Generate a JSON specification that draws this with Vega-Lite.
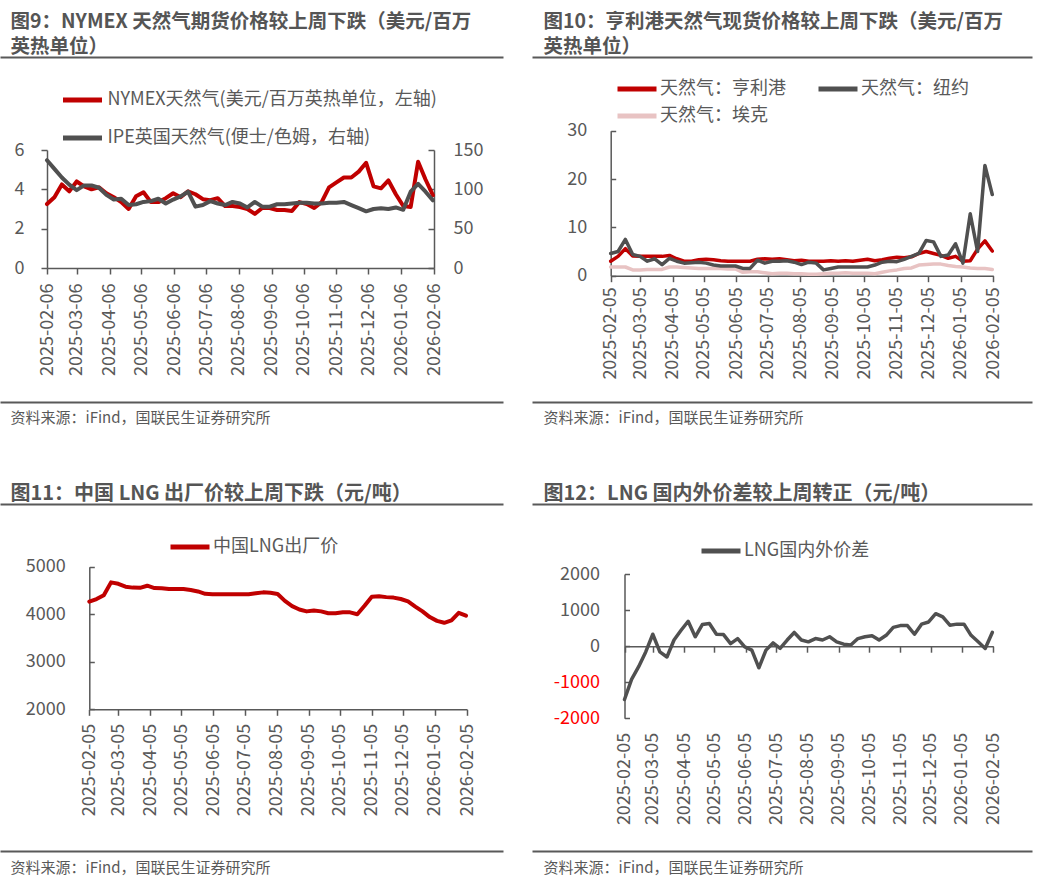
{
"$schema":"https://vega.github.io/schema/vega-lite/v6.json",
"width":1047,"height":887,"autosize":{"type":"none"},"padding":0,"background":"white",
"config":{"view":{"stroke":null},"font":"Noto Sans CJK SC",
"axis":{"grid":false,"domainColor":"#595959","domainWidth":1.5,"tickColor":"#595959","tickWidth":1.5,"labelColor":"#595959","labelFont":"Noto Sans CJK SC","labelFontSize":18,"titleFont":"Noto Sans CJK SC","titleColor":"#595959","labelFlush":false,"labelOverlap":false,"labelBound":false},
"legend":{"orient":"none","padding":0,"labelFont":"Noto Sans CJK SC","labelFontSize":18,"labelColor":"#595959","labelLimit":0,"symbolStrokeWidth":5,"symbolSize":100,"symbolType":"M-3.9,0L3.9,0","labelOffset":14},
"line":{"strokeCap":"round","strokeJoin":"round"}},
"datasets":{
"deco":[{"s":0},{"s":1}],
"p1":[
{"d":"2025-02-06","a":3.25,"b":137},{"d":"2025-02-13","a":3.6,"b":126},{"d":"2025-02-20","a":4.25,"b":115},{"d":"2025-02-27","a":3.9,"b":106},{"d":"2025-03-06","a":4.4,"b":99},{"d":"2025-03-13","a":4.15,"b":105},{"d":"2025-03-20","a":4.0,"b":105},{"d":"2025-03-27","a":4.1,"b":102},{"d":"2025-04-03","a":3.8,"b":93},{"d":"2025-04-10","a":3.6,"b":87},{"d":"2025-04-17","a":3.35,"b":88},{"d":"2025-04-24","a":3.0,"b":80},{"d":"2025-05-01","a":3.65,"b":81},{"d":"2025-05-08","a":3.85,"b":84},{"d":"2025-05-15","a":3.35,"b":85},{"d":"2025-05-22","a":3.35,"b":88},{"d":"2025-05-29","a":3.55,"b":82},{"d":"2025-06-05","a":3.8,"b":87},{"d":"2025-06-12","a":3.6,"b":91},{"d":"2025-06-19","a":3.9,"b":97},{"d":"2025-06-26","a":3.75,"b":78},{"d":"2025-07-03","a":3.5,"b":80},{"d":"2025-07-10","a":3.45,"b":85},{"d":"2025-07-17","a":3.55,"b":82},{"d":"2025-07-24","a":3.15,"b":80},{"d":"2025-07-31","a":3.15,"b":84},{"d":"2025-08-07","a":3.1,"b":82},{"d":"2025-08-14","a":3.0,"b":77},{"d":"2025-08-21","a":2.75,"b":84},{"d":"2025-08-28","a":3.05,"b":78},{"d":"2025-09-04","a":3.05,"b":78},{"d":"2025-09-11","a":2.95,"b":81},{"d":"2025-09-18","a":2.95,"b":81},{"d":"2025-09-25","a":2.9,"b":82},{"d":"2025-10-02","a":3.35,"b":83},{"d":"2025-10-09","a":3.25,"b":83},{"d":"2025-10-16","a":3.05,"b":82},{"d":"2025-10-23","a":3.35,"b":82},{"d":"2025-10-30","a":4.1,"b":83},{"d":"2025-11-06","a":4.35,"b":83},{"d":"2025-11-13","a":4.6,"b":84},{"d":"2025-11-20","a":4.6,"b":80},{"d":"2025-11-27","a":4.9,"b":76},{"d":"2025-12-04","a":5.35,"b":72},{"d":"2025-12-11","a":4.15,"b":75},{"d":"2025-12-18","a":4.05,"b":76},{"d":"2025-12-25","a":4.45,"b":75},{"d":"2026-01-01","a":3.75,"b":77},{"d":"2026-01-08","a":3.15,"b":74},{"d":"2026-01-15","a":3.1,"b":97},{"d":"2026-01-22","a":5.4,"b":107},{"d":"2026-01-29","a":4.5,"b":97},{"d":"2026-02-05","a":3.7,"b":86}],
"p2":[
{"d":"2025-02-05","h":3.0,"n":4.6,"a":1.8},{"d":"2025-02-12","h":4.0,"n":5.0,"a":1.8},{"d":"2025-02-19","h":5.6,"n":7.5,"a":1.8},{"d":"2025-02-26","h":4.1,"n":4.4,"a":1.2},{"d":"2025-03-05","h":4.0,"n":4.0,"a":1.2},{"d":"2025-03-12","h":4.0,"n":3.0,"a":1.3},{"d":"2025-03-19","h":4.0,"n":3.5,"a":1.3},{"d":"2025-03-26","h":4.0,"n":2.3,"a":1.3},{"d":"2025-04-02","h":4.2,"n":3.6,"a":1.8},{"d":"2025-04-09","h":3.5,"n":3.0,"a":1.8},{"d":"2025-04-16","h":3.0,"n":2.6,"a":1.7},{"d":"2025-04-23","h":3.0,"n":2.7,"a":1.6},{"d":"2025-04-30","h":3.3,"n":2.8,"a":1.5},{"d":"2025-05-07","h":3.4,"n":2.6,"a":1.5},{"d":"2025-05-14","h":3.3,"n":2.2,"a":1.5},{"d":"2025-05-21","h":3.1,"n":2.0,"a":1.5},{"d":"2025-05-28","h":3.0,"n":2.0,"a":1.4},{"d":"2025-06-04","h":3.0,"n":2.0,"a":1.4},{"d":"2025-06-11","h":3.0,"n":1.5,"a":0.7},{"d":"2025-06-18","h":3.0,"n":1.5,"a":0.8},{"d":"2025-06-25","h":3.4,"n":3.2,"a":0.8},{"d":"2025-07-02","h":3.5,"n":2.6,"a":0.6},{"d":"2025-07-09","h":3.4,"n":3.0,"a":0.4},{"d":"2025-07-16","h":3.5,"n":3.0,"a":0.5},{"d":"2025-07-23","h":3.3,"n":3.1,"a":0.5},{"d":"2025-07-30","h":3.1,"n":2.8,"a":0.4},{"d":"2025-08-06","h":3.2,"n":2.3,"a":0.4},{"d":"2025-08-13","h":3.0,"n":2.8,"a":0.3},{"d":"2025-08-20","h":3.0,"n":2.6,"a":0.3},{"d":"2025-08-27","h":3.0,"n":1.2,"a":0.4},{"d":"2025-09-03","h":3.1,"n":1.5,"a":0.5},{"d":"2025-09-10","h":3.0,"n":1.8,"a":0.5},{"d":"2025-09-17","h":3.1,"n":1.8,"a":0.6},{"d":"2025-09-24","h":3.0,"n":1.8,"a":0.5},{"d":"2025-10-01","h":3.2,"n":1.8,"a":0.5},{"d":"2025-10-08","h":3.4,"n":1.8,"a":0.5},{"d":"2025-10-15","h":3.1,"n":2.2,"a":0.4},{"d":"2025-10-22","h":3.3,"n":2.8,"a":0.7},{"d":"2025-10-29","h":3.6,"n":3.0,"a":1.0},{"d":"2025-11-05","h":3.8,"n":2.9,"a":1.2},{"d":"2025-11-12","h":3.7,"n":3.4,"a":1.5},{"d":"2025-11-19","h":3.9,"n":4.0,"a":1.6},{"d":"2025-11-26","h":4.6,"n":4.6,"a":2.2},{"d":"2025-12-03","h":5.0,"n":7.3,"a":2.3},{"d":"2025-12-10","h":4.6,"n":7.0,"a":2.4},{"d":"2025-12-17","h":4.2,"n":4.0,"a":2.4},{"d":"2025-12-24","h":3.6,"n":4.3,"a":2.1},{"d":"2025-12-31","h":4.0,"n":6.6,"a":1.9},{"d":"2026-01-07","h":3.0,"n":2.6,"a":1.8},{"d":"2026-01-14","h":3.1,"n":12.8,"a":1.6},{"d":"2026-01-21","h":5.5,"n":5.0,"a":1.5},{"d":"2026-01-28","h":7.2,"n":22.8,"a":1.5},{"d":"2026-02-04","h":5.1,"n":16.8,"a":1.3}],
"p3":[
{"d":"2025-02-05","v":4265},{"d":"2025-02-12","v":4320},{"d":"2025-02-19","v":4400},{"d":"2025-02-26","v":4670},{"d":"2025-03-05","v":4640},{"d":"2025-03-12","v":4580},{"d":"2025-03-19","v":4560},{"d":"2025-03-26","v":4555},{"d":"2025-04-02","v":4600},{"d":"2025-04-09","v":4550},{"d":"2025-04-16","v":4545},{"d":"2025-04-23","v":4530},{"d":"2025-04-30","v":4530},{"d":"2025-05-07","v":4530},{"d":"2025-05-14","v":4510},{"d":"2025-05-21","v":4480},{"d":"2025-05-28","v":4430},{"d":"2025-06-04","v":4420},{"d":"2025-06-11","v":4420},{"d":"2025-06-18","v":4420},{"d":"2025-06-25","v":4420},{"d":"2025-07-02","v":4420},{"d":"2025-07-09","v":4420},{"d":"2025-07-16","v":4440},{"d":"2025-07-23","v":4460},{"d":"2025-07-30","v":4450},{"d":"2025-08-06","v":4425},{"d":"2025-08-13","v":4280},{"d":"2025-08-20","v":4170},{"d":"2025-08-27","v":4100},{"d":"2025-09-03","v":4060},{"d":"2025-09-10","v":4080},{"d":"2025-09-17","v":4060},{"d":"2025-09-24","v":4020},{"d":"2025-10-01","v":4020},{"d":"2025-10-08","v":4040},{"d":"2025-10-15","v":4040},{"d":"2025-10-22","v":4000},{"d":"2025-10-29","v":4180},{"d":"2025-11-05","v":4370},{"d":"2025-11-12","v":4380},{"d":"2025-11-19","v":4360},{"d":"2025-11-26","v":4350},{"d":"2025-12-03","v":4320},{"d":"2025-12-10","v":4270},{"d":"2025-12-17","v":4160},{"d":"2025-12-24","v":4060},{"d":"2025-12-31","v":3940},{"d":"2026-01-07","v":3860},{"d":"2026-01-14","v":3820},{"d":"2026-01-21","v":3870},{"d":"2026-01-28","v":4030},{"d":"2026-02-04","v":3970}],
"p4":[
{"d":"2025-02-05","v":-1480},{"d":"2025-02-12","v":-920},{"d":"2025-02-19","v":-570},{"d":"2025-02-26","v":-160},{"d":"2025-03-05","v":330},{"d":"2025-03-12","v":-160},{"d":"2025-03-19","v":-300},{"d":"2025-03-26","v":170},{"d":"2025-04-02","v":440},{"d":"2025-04-09","v":690},{"d":"2025-04-16","v":260},{"d":"2025-04-23","v":600},{"d":"2025-04-30","v":630},{"d":"2025-05-07","v":330},{"d":"2025-05-14","v":320},{"d":"2025-05-21","v":70},{"d":"2025-05-28","v":210},{"d":"2025-06-04","v":-20},{"d":"2025-06-11","v":-110},{"d":"2025-06-18","v":-600},{"d":"2025-06-25","v":-110},{"d":"2025-07-02","v":90},{"d":"2025-07-09","v":-60},{"d":"2025-07-16","v":170},{"d":"2025-07-23","v":380},{"d":"2025-07-30","v":170},{"d":"2025-08-06","v":120},{"d":"2025-08-13","v":210},{"d":"2025-08-20","v":170},{"d":"2025-08-27","v":260},{"d":"2025-09-03","v":120},{"d":"2025-09-10","v":55},{"d":"2025-09-17","v":30},{"d":"2025-09-24","v":210},{"d":"2025-10-01","v":260},{"d":"2025-10-08","v":290},{"d":"2025-10-15","v":170},{"d":"2025-10-22","v":300},{"d":"2025-10-29","v":520},{"d":"2025-11-05","v":570},{"d":"2025-11-12","v":570},{"d":"2025-11-19","v":330},{"d":"2025-11-26","v":610},{"d":"2025-12-03","v":670},{"d":"2025-12-10","v":900},{"d":"2025-12-17","v":810},{"d":"2025-12-24","v":580},{"d":"2025-12-31","v":610},{"d":"2026-01-07","v":610},{"d":"2026-01-14","v":300},{"d":"2026-01-21","v":120},{"d":"2026-01-28","v":-65},{"d":"2026-02-04","v":380}]
},
"layer":[
{"data":{"name":"p1"},
 "layer":[
 {"mark":{"type":"line","strokeWidth":4},
  "encoding":{
   "x":{"field":"d","type":"temporal","scale":{"type":"utc","domain":[{"year":2025,"month":2,"date":6,"utc":true},{"year":2026,"month":2,"date":6,"utc":true}],"range":[47,434]},
        "axis":{"orient":"bottom","offset":-619,"format":"%Y-%m-%d","labelAngle":270,"tickSize":6,"labelPadding":9,"title":null,
        "values":[{"year":2025,"month":2,"date":6,"utc":true},{"year":2025,"month":3,"date":6,"utc":true},{"year":2025,"month":4,"date":6,"utc":true},{"year":2025,"month":5,"date":6,"utc":true},{"year":2025,"month":6,"date":6,"utc":true},{"year":2025,"month":7,"date":6,"utc":true},{"year":2025,"month":8,"date":6,"utc":true},{"year":2025,"month":9,"date":6,"utc":true},{"year":2025,"month":10,"date":6,"utc":true},{"year":2025,"month":11,"date":6,"utc":true},{"year":2025,"month":12,"date":6,"utc":true},{"year":2026,"month":1,"date":6,"utc":true},{"year":2026,"month":2,"date":6,"utc":true}]}},
   "y":{"field":"a","type":"quantitative","scale":{"domain":[0,6],"range":[268,150]},"axis":{"orient":"left","offset":-47,"values":[0,2,4,6],"tickSize":6,"labelPadding":17,"title":null}},
   "color":{"datum":"NYMEX天然气(美元/百万英热单位，左轴)","scale":{"domain":["NYMEX天然气(美元/百万英热单位，左轴)","IPE英国天然气(便士/色姆，右轴)"],"range":["#C00000","#505050"]},
            "legend":{"title":null,"legendX":73.5,"legendY":91,"rowPadding":20,"labelOffset":16}}}},
 {"mark":{"type":"line","strokeWidth":4},
  "encoding":{
   "x":{"field":"d","type":"temporal"},
   "y":{"field":"b","type":"quantitative","scale":{"domain":[0,150],"range":[268,150]},"axis":{"orient":"right","offset":-613,"values":[0,50,100,150],"tickSize":-6,"labelPadding":25,"title":null}},
   "color":{"datum":"IPE英国天然气(便士/色姆，右轴)"}}}
 ],
 "resolve":{"scale":{"y":"independent"},"axis":{"y":"independent"}}},
{"data":{"name":"p2"},
 "layer":[
 {"mark":{"type":"line","strokeWidth":3.5},
  "encoding":{
   "x":{"field":"d","type":"temporal","scale":{"type":"utc","domain":[{"year":2025,"month":2,"date":5,"utc":true},{"year":2026,"month":2,"date":5,"utc":true}],"range":[610.7,993.3]},
        "axis":{"orient":"bottom","offset":-611.3,"format":"%Y-%m-%d","labelAngle":270,"tickSize":6,"labelPadding":5,"title":null,
        "values":[{"year":2025,"month":2,"date":5,"utc":true},{"year":2025,"month":3,"date":5,"utc":true},{"year":2025,"month":4,"date":5,"utc":true},{"year":2025,"month":5,"date":5,"utc":true},{"year":2025,"month":6,"date":5,"utc":true},{"year":2025,"month":7,"date":5,"utc":true},{"year":2025,"month":8,"date":5,"utc":true},{"year":2025,"month":9,"date":5,"utc":true},{"year":2025,"month":10,"date":5,"utc":true},{"year":2025,"month":11,"date":5,"utc":true},{"year":2025,"month":12,"date":5,"utc":true},{"year":2026,"month":1,"date":5,"utc":true},{"year":2026,"month":2,"date":5,"utc":true}]}},
   "y":{"field":"a","type":"quantitative","scale":{"domain":[0,30],"range":[275.7,130.7]},"axis":{"orient":"left","offset":-610.7,"values":[0,10,20,30],"tickSize":-5,"labelPadding":29,"title":null}},
   "color":{"datum":"天然气：埃克","scale":{"domain":["天然气：亨利港","天然气：纽约","天然气：埃克"],"range":["#C00000","#505050","#E8C3C3"]},
            "legend":{"title":null,"columns":2,"direction":"horizontal","legendX":628,"legendY":80,"rowPadding":9,"columnPadding":30}}}},
 {"mark":{"type":"line","strokeWidth":3.5},
  "encoding":{"x":{"field":"d","type":"temporal"},"y":{"field":"h","type":"quantitative"},"color":{"datum":"天然气：亨利港"}}},
 {"mark":{"type":"line","strokeWidth":3.5},
  "encoding":{"x":{"field":"d","type":"temporal"},"y":{"field":"n","type":"quantitative"},"color":{"datum":"天然气：纽约"}}}
 ]},
{"data":{"name":"p3"},
 "mark":{"type":"line","strokeWidth":4},
 "encoding":{
   "x":{"field":"d","type":"temporal","scale":{"type":"utc","domain":[{"year":2025,"month":2,"date":5,"utc":true},{"year":2026,"month":2,"date":5,"utc":true}],"range":[89.3,467]},
        "axis":{"orient":"bottom","offset":-177.7,"format":"%Y-%m-%d","labelAngle":270,"tickSize":6,"labelPadding":8,"title":null,
        "values":[{"year":2025,"month":2,"date":5,"utc":true},{"year":2025,"month":3,"date":5,"utc":true},{"year":2025,"month":4,"date":5,"utc":true},{"year":2025,"month":5,"date":5,"utc":true},{"year":2025,"month":6,"date":5,"utc":true},{"year":2025,"month":7,"date":5,"utc":true},{"year":2025,"month":8,"date":5,"utc":true},{"year":2025,"month":9,"date":5,"utc":true},{"year":2025,"month":10,"date":5,"utc":true},{"year":2025,"month":11,"date":5,"utc":true},{"year":2025,"month":12,"date":5,"utc":true},{"year":2026,"month":1,"date":5,"utc":true},{"year":2026,"month":2,"date":5,"utc":true}]}},
   "y":{"field":"v","type":"quantitative","scale":{"domain":[2000,5000],"range":[709.3,566.7]},"axis":{"orient":"left","offset":-89.3,"values":[2000,3000,4000,5000],"format":"d","tickSize":-5,"labelPadding":29,"title":null}},
   "color":{"datum":"中国LNG出厂价","scale":{"range":["#C00000"]},"legend":{"title":null,"legendX":181,"legendY":538}}}},
{"data":{"name":"p4"},
 "mark":{"type":"line","strokeWidth":3.5},
 "encoding":{
   "x":{"field":"d","type":"temporal","scale":{"type":"utc","domain":[{"year":2025,"month":2,"date":5,"utc":true},{"year":2026,"month":2,"date":5,"utc":true}],"range":[624.5,993.3]},
        "axis":{"orient":"bottom","offset":-240.8,"format":"%Y-%m-%d","labelAngle":270,"tickSize":6,"labelPadding":80,"title":null,
        "values":[{"year":2025,"month":2,"date":5,"utc":true},{"year":2025,"month":3,"date":5,"utc":true},{"year":2025,"month":4,"date":5,"utc":true},{"year":2025,"month":5,"date":5,"utc":true},{"year":2025,"month":6,"date":5,"utc":true},{"year":2025,"month":7,"date":5,"utc":true},{"year":2025,"month":8,"date":5,"utc":true},{"year":2025,"month":9,"date":5,"utc":true},{"year":2025,"month":10,"date":5,"utc":true},{"year":2025,"month":11,"date":5,"utc":true},{"year":2025,"month":12,"date":5,"utc":true},{"year":2026,"month":1,"date":5,"utc":true},{"year":2026,"month":2,"date":5,"utc":true}]}},
   "y":{"field":"v","type":"quantitative","scale":{"domain":[-2000,2000],"range":[718.3,574]},"axis":{"orient":"left","offset":-624.5,"values":[-2000,-1000,0,1000,2000],"labelExpr":"'' + datum.value","tickSize":-5,"labelPadding":30,"title":null,
        "labelColor":{"condition":{"test":"datum.value < 0","value":"#FF0000"},"value":"#595959"}}},
   "color":{"datum":"LNG国内外价差","scale":{"range":["#505050"]},"legend":{"title":null,"legendX":712,"legendY":542}}}},
{"data":{"name":"deco"},"mark":{"type":"point","opacity":0},
 "encoding":{"x":{"field":"s","type":"quantitative","scale":{"domain":[0,1],"range":[0,503]},
  "axis":{"orient":"top","offset":-57,"domainWidth":2,"ticks":false,"labels":false,"title":["图9：NYMEX 天然气期货价格较上周下跌（美元/百万","英热单位）"],"titleX":10,"titleY":-29.5,"titleAlign":"left","titleBaseline":"alphabetic","titleFontSize":19.5,"titleFontWeight":"bold","titleLineHeight":25,"titleColor":"#555555"}}}},
{"data":{"name":"deco"},"mark":{"type":"point","opacity":0},
 "encoding":{"x":{"field":"s","type":"quantitative","scale":{"domain":[0,1],"range":[532,1032]},
  "axis":{"orient":"top","offset":-57,"domainWidth":2,"ticks":false,"labels":false,"title":["图10：亨利港天然气现货价格较上周下跌（美元/百万","英热单位）"],"titleX":543,"titleY":-29.5,"titleAlign":"left","titleBaseline":"alphabetic","titleFontSize":19.5,"titleFontWeight":"bold","titleLineHeight":25,"titleColor":"#555555"}}}},
{"data":{"name":"deco"},"mark":{"type":"point","opacity":0},
 "encoding":{"x":{"field":"s","type":"quantitative","scale":{"domain":[0,1],"range":[0,503]},
  "axis":{"orient":"top","offset":-504,"domainWidth":2,"ticks":false,"labels":false,"title":"图11：中国 LNG 出厂价较上周下跌（元/吨）","titleX":10,"titleY":-5,"titleAlign":"left","titleBaseline":"alphabetic","titleFontSize":20,"titleFontWeight":"bold","titleColor":"#555555"}}}},
{"data":{"name":"deco"},"mark":{"type":"point","opacity":0},
 "encoding":{"x":{"field":"s","type":"quantitative","scale":{"domain":[0,1],"range":[532,1032]},
  "axis":{"orient":"top","offset":-504,"domainWidth":2,"ticks":false,"labels":false,"title":"图12：LNG 国内外价差较上周转正（元/吨）","titleX":543,"titleY":-5,"titleAlign":"left","titleBaseline":"alphabetic","titleFontSize":20,"titleFontWeight":"bold","titleColor":"#555555"}}}},
{"data":{"name":"deco"},"mark":{"type":"point","opacity":0},
 "encoding":{"x":{"field":"s","type":"quantitative","scale":{"domain":[0,1],"range":[0,503]},
  "axis":{"orient":"bottom","offset":-485,"domainWidth":2,"ticks":false,"labels":false,"title":"资料来源：iFind，国联民生证券研究所","titleX":10,"titleY":20,"titleAlign":"left","titleBaseline":"alphabetic","titleFontSize":15,"titleFontWeight":"normal"}}}},
{"data":{"name":"deco"},"mark":{"type":"point","opacity":0},
 "encoding":{"x":{"field":"s","type":"quantitative","scale":{"domain":[0,1],"range":[532,1032]},
  "axis":{"orient":"bottom","offset":-485,"domainWidth":2,"ticks":false,"labels":false,"title":"资料来源：iFind，国联民生证券研究所","titleX":543,"titleY":20,"titleAlign":"left","titleBaseline":"alphabetic","titleFontSize":15,"titleFontWeight":"normal"}}}},
{"data":{"name":"deco"},"mark":{"type":"point","opacity":0},
 "encoding":{"x":{"field":"s","type":"quantitative","scale":{"domain":[0,1],"range":[0,503]},
  "axis":{"orient":"bottom","offset":-36,"domainWidth":2,"ticks":false,"labels":false,"title":"资料来源：iFind，国联民生证券研究所","titleX":10,"titleY":21,"titleAlign":"left","titleBaseline":"alphabetic","titleFontSize":15,"titleFontWeight":"normal"}}}},
{"data":{"name":"deco"},"mark":{"type":"point","opacity":0},
 "encoding":{"x":{"field":"s","type":"quantitative","scale":{"domain":[0,1],"range":[532,1032]},
  "axis":{"orient":"bottom","offset":-36,"domainWidth":2,"ticks":false,"labels":false,"title":"资料来源：iFind，国联民生证券研究所","titleX":543,"titleY":21,"titleAlign":"left","titleBaseline":"alphabetic","titleFontSize":15,"titleFontWeight":"normal"}}}}
],
"resolve":{"scale":{"x":"independent","y":"independent","color":"independent"},"axis":{"x":"independent","y":"independent"},"legend":{"color":"independent"}}
}
